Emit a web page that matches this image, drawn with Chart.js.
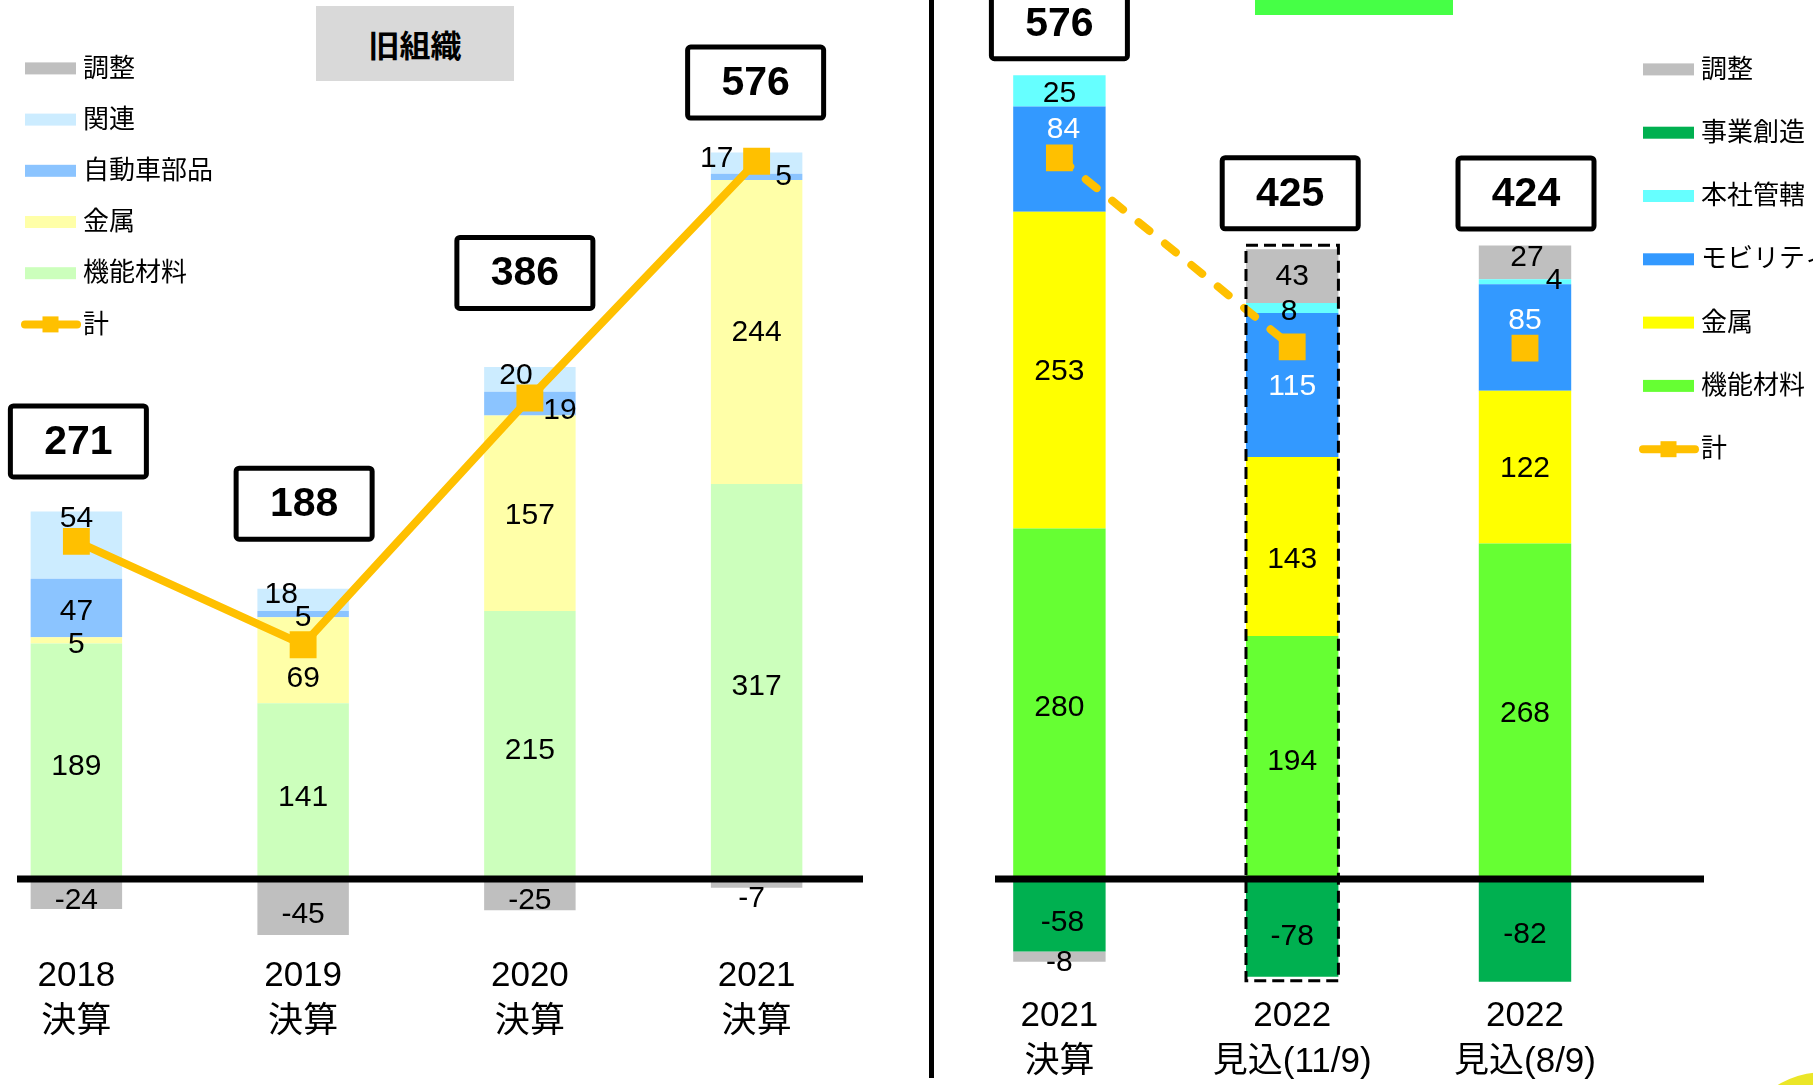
<!DOCTYPE html>
<html lang="ja">
<head>
<meta charset="utf-8">
<title>セグメント別 利益推移</title>
<script src="https://cdn.jsdelivr.net/npm/chart.js@4.4.1/dist/chart.umd.min.js"></script>
<style>
  html, body { margin: 0; padding: 0; background: #fff; }
  body { position: relative; width: 1813px; height: 1085px; overflow: hidden; }
  canvas { position: absolute; top: 0; }
  #cOld { left: -37px; }
  #cNew { left: 943px; }
  #oldTag {
    position: absolute; left: 316px; top: 6px; width: 198px; height: 75px;
    background: #D9D9D9; color: #000; text-align: center;
    font: bold 31px "Noto Sans CJK JP", "Liberation Sans", sans-serif;
    line-height: 75px;
  }
  #newTag { position: absolute; left: 1255px; top: 0; width: 198px; height: 15px; background: #46FF46; }
  #divider { position: absolute; left: 929px; top: 0; width: 5px; height: 1078px; background: #000; }
  #corner {
    position: absolute; left: 1733px; top: 1072px; width: 183px; height: 183px;
    border-radius: 50%; background: #EBE628;
  }
</style>
</head>
<body>
<canvas id="cOld" width="907" height="1085"></canvas>
<canvas id="cNew" width="870" height="1085"></canvas>
<div id="oldTag">旧組織</div>
<div id="newTag"></div>
<div id="divider"></div>
<div id="corner"></div>
<script>
// ---------- 旧組織 (left panel) ----------
const oldCategories = [['2018', '決算'], ['2019', '決算'], ['2020', '決算'], ['2021', '決算']];
const oldFunctional = [189, 141, 215, 317];   // 機能材料
const oldMetal      = [5, 69, 157, 244];      // 金属
const oldAutoParts  = [47, 5, 19, 5];         // 自動車部品
const oldRelated    = [54, 18, 20, 17];       // 関連
const oldAdjust     = [-24, -45, -25, -7];    // 調整

// ---------- 新組織 (right panel) ----------
const newCategories = [['2021', '決算'], ['2022', '見込(11/9)'], ['2022', '見込(8/9)']];
const newFunctional = [280, 194, 268];        // 機能材料
const newMetal      = [253, 143, 122];        // 金属
const newMobility   = [84, 115, 85];          // モビリティ
const newHQ         = [25, 8, 4];             // 本社管轄
const newVenture    = [-58, -78, -82];        // 事業創造
const newAdjust     = [-8, 43, 27];           // 調整

// totals (計) are the sum of every segment of a column
const columnSum = (series, j) => series.reduce((s, a) => s + a[j], 0);
const oldTotal = oldCategories.map((_, j) => columnSum([oldFunctional, oldMetal, oldAutoParts, oldRelated, oldAdjust], j));
const newTotal = newCategories.map((_, j) => columnSum([newFunctional, newMetal, newMobility, newHQ, newVenture, newAdjust], j));

const FONT = '"Liberation Sans", "Noto Sans CJK JP", Arial, sans-serif';
const ORANGE = '#FFC000';

// page geometry
const PAGE_H = 1085;
const ZERO_Y = 879;          // pixel row of the value 0
const OLD_LEFT = -37, NEW_LEFT = 943;
const OLD_K = 1.246, NEW_K = 1.252;   // px per unit
const OLD_MIN = -50, NEW_MIN = -90;

function bar(label, data, color, labelColor, pct) {
  return { type: 'bar', label, data, backgroundColor: color, borderWidth: 0, order: 1,
           categoryPercentage: 1, barPercentage: pct, labelColor: labelColor || '#000' };
}
function totalLine(data, extra) {
  return Object.assign({ type: 'line', label: '計', data, borderColor: ORANGE, backgroundColor: ORANGE,
    borderWidth: 8, tension: 0, fill: false, order: 0, pointStyle: 'rect', pointRadius: 19,
    pointHoverRadius: 19, pointBorderWidth: 0, pointBackgroundColor: ORANGE }, extra || {});
}

// labels, total boxes, base line, outline and legend
const panelPlugin = {
  id: 'panel',
  afterDatasetsDraw(chart, _a, o) {
    const { ctx } = chart;
    const x = chart.scales.x, y = chart.scales.y;
    const ds = chart.data.datasets;
    const bars = ds.map((d, i) => ({ d, i })).filter(e => e.d.type === 'bar');
    const posSum = j => bars.reduce((s, e) => s + Math.max(0, e.d.data[j]), 0);
    const negSum = j => bars.reduce((s, e) => s + Math.min(0, e.d.data[j]), 0);
    ctx.save();

    // thick base line at 0
    const y0 = y.getPixelForValue(0);
    ctx.strokeStyle = '#000';
    ctx.lineWidth = 7;
    ctx.beginPath(); ctx.moveTo(o.axisFrom, y0); ctx.lineTo(o.axisTo, y0); ctx.stroke();

    // dashed outline round one column
    if (o.outline != null) {
      const el = chart.getDatasetMeta(bars[0].i).data[o.outline];
      const l = el.x - el.width / 2, r = el.x + el.width / 2;
      const t = y.getPixelForValue(posSum(o.outline)) - 4;
      const b = y.getPixelForValue(negSum(o.outline)) + 4;
      ctx.setLineDash([12, 6]);
      ctx.lineWidth = 3;
      ctx.strokeRect(l, t, r - l, b - t);
      ctx.setLineDash([]);
    }

    // segment values
    ctx.font = '30px ' + FONT;
    ctx.textAlign = 'center';
    ctx.textBaseline = 'middle';
    bars.forEach(({ d, i }) => {
      chart.getDatasetMeta(i).data.forEach((el, j) => {
        const v = d.data[j];
        if (!v) return;
        const off = (o.offsets[d.label] || [])[j] || [0, 0];
        ctx.fillStyle = d.labelColor;
        ctx.fillText(String(v), el.x + off[0], (el.y + el.base) / 2 + off[1]);
      });
    });

    // total boxes
    const tot = ds.find(d => d.type === 'line');
    tot.data.forEach((v, j) => {
      const cx = x.getPixelForValue(j) + o.boxDx[j];
      const bottom = y.getPixelForValue(posSum(j)) - o.boxLift[j];
      const w = 141, h = 76, top = bottom - h;
      ctx.fillStyle = '#fff';
      ctx.strokeStyle = '#000';
      ctx.lineWidth = 5;
      ctx.beginPath();
      ctx.roundRect(cx - w / 2 + 2.5, top + 2.5, w - 5, h - 5, 3);
      ctx.fill(); ctx.stroke();
      ctx.fillStyle = '#000';
      ctx.font = 'bold 41px ' + FONT;
      ctx.fillText(String(v), cx, top + h / 2 + 1);
    });

    // legend
    const L = o.legend;
    ctx.font = '26px ' + FONT;
    ctx.textAlign = 'left';
    L.items.forEach((name, k) => {
      const d = ds.find(s => s.label === name);
      const cy = L.y0 + k * L.step;
      if (d.type === 'line') {
        ctx.strokeStyle = d.borderColor;
        ctx.lineWidth = 8;
        ctx.lineCap = 'round';
        ctx.beginPath(); ctx.moveTo(L.x, cy); ctx.lineTo(L.x + L.w + 1, cy); ctx.stroke();
        ctx.fillStyle = d.pointBackgroundColor;
        ctx.fillRect(L.x + L.w / 2 - 8, cy - 8, 16, 16);
      } else {
        ctx.fillStyle = d.backgroundColor;
        ctx.fillRect(L.x, cy - 6, L.w, 12);
      }
      ctx.fillStyle = '#000';
      ctx.fillText(name, L.textX, cy + 1);
    });
    ctx.restore();
  }
};

function xAxis(axisHeight, pad) {
  return {
    stacked: true,
    grid: { display: false },
    border: { display: false },
    ticks: { color: '#000', padding: pad, maxRotation: 0, autoSkip: false,
             font: { family: FONT, size: 35, lineHeight: 46 / 35 } },
    afterFit: s => { s.height = axisHeight; }
  };
}
function yAxis(k, min) {
  return { display: false, stacked: true, min, max: ZERO_Y / k };
}

const common = {
  responsive: false,
  animation: false,
  events: [],
  devicePixelRatio: 1
};

// left panel
const oldBottom = ZERO_Y - OLD_MIN * OLD_K;
new Chart(document.getElementById('cOld'), {
  data: {
    labels: oldCategories,
    datasets: [
      bar('機能材料', oldFunctional, '#CCFFBC', '#000', 0.4034),
      bar('金属', oldMetal, '#FFFFA8', '#000', 0.4034),
      bar('自動車部品', oldAutoParts, '#8BC4FF', '#000', 0.4034),
      bar('関連', oldRelated, '#CCECFF', '#000', 0.4034),
      bar('調整', oldAdjust, '#BFBFBF', '#000', 0.4034),
      totalLine(oldTotal)
    ]
  },
  options: Object.assign({}, common, {
    layout: { autoPadding: false, padding: 0 },
    scales: { x: xAxis(PAGE_H - oldBottom, 4.4), y: yAxis(OLD_K, OLD_MIN) },
    plugins: {
      legend: { display: false },
      tooltip: { enabled: false },
      panel: {
        axisFrom: 17 - OLD_LEFT, axisTo: 863 - OLD_LEFT,
        boxLift: [32, 47, 56, 32], boxDx: [2, 1, -5, -1],
        offsets: {
          '機能材料': [[0, 5], [0, 7], [0, 6], [0, 5]],
          '金属': [[0, 4], [0, 18], [0, 2], [0, 1]],
          '自動車部品': [[0, 4], [0, 4], [30, 7], [27, 0]],
          '関連': [[0, -26], [-22, -5], [-14, -4], [-40, -4]],
          '調整': [[0, 7], [0, 8], [0, 6], [-5, 15]]
        },
        legend: { items: ['調整', '関連', '自動車部品', '金属', '機能材料', '計'],
                  x: 25 - OLD_LEFT, w: 51, textX: 83 - OLD_LEFT, y0: 68.4, step: 51.2 }
      }
    }
  }),
  plugins: [panelPlugin]
});

// right panel
const newBottom = ZERO_Y - NEW_MIN * NEW_K;
new Chart(document.getElementById('cNew'), {
  data: {
    labels: newCategories,
    datasets: [
      bar('機能材料', newFunctional, '#66FF33', '#000', 0.397),
      bar('金属', newMetal, '#FFFF00', '#000', 0.397),
      bar('モビリティ', newMobility, '#3399FF', '#fff', 0.397),
      bar('本社管轄', newHQ, '#66FFFF', '#000', 0.397),
      bar('事業創造', newVenture, '#00B050', '#000', 0.397),
      bar('調整', newAdjust, '#BFBFBF', '#000', 0.397),
      totalLine(newTotal, {
        borderDash: [14, 20],
        borderCapStyle: 'round',
        segment: { borderColor: c => (c.p0DataIndex === 1 ? 'rgba(0,0,0,0)' : undefined) }
      })
    ]
  },
  options: Object.assign({}, common, {
    layout: { autoPadding: false, padding: { left: 0, top: 0, bottom: 0, right: 171.6 } },
    scales: { x: xAxis(PAGE_H - newBottom, -6.7), y: yAxis(NEW_K, NEW_MIN) },
    plugins: {
      legend: { display: false },
      tooltip: { enabled: false },
      panel: {
        axisFrom: 995 - NEW_LEFT, axisTo: 1704 - NEW_LEFT,
        outline: 1,
        boxLift: [14, 18, 14], boxDx: [0, -2, 1],
        offsets: {
          '機能材料': [[0, 4], [0, 4], [0, 3]],
          '金属': [[0, 2], [0, 13], [0, 2]],
          'モビリティ': [[4, -29], [0, 2], [0, -17]],
          '本社管轄': [[0, 3], [-3, 4], [29, -1]],
          '事業創造': [[3, 7], [0, 9], [0, 4]],
          '調整': [[0, 6], [0, 1], [2, -5]]
        },
        legend: { items: ['調整', '事業創造', '本社管轄', 'モビリティ', '金属', '機能材料', '計'],
                  x: 1643 - NEW_LEFT, w: 51, textX: 1701 - NEW_LEFT, y0: 69.4, step: 63.3 }
      }
    }
  }),
  plugins: [panelPlugin]
});
</script>
</body>
</html>
